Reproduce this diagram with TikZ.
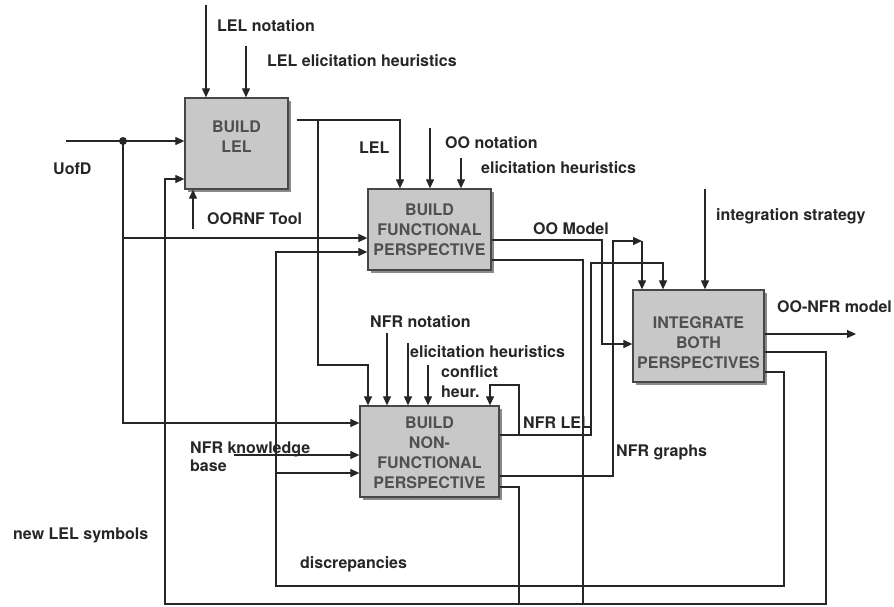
\documentclass[tikz,border=0pt]{standalone}
\usepackage{fontspec}
\setmainfont{TeX Gyre Heros}
\usetikzlibrary{arrows.meta,shadows,calc}
\definecolor{boxfill}{HTML}{C8C8C8}
\definecolor{boxline}{HTML}{474747}
\definecolor{boxtext}{HTML}{505050}
\definecolor{ink}{HTML}{262626}
\definecolor{shade}{HTML}{8A8A8A}
\begin{document}
\begin{tikzpicture}[x=1pt,y=-1pt,
  font=\fontsize{16}{20}\selectfont\bfseries,
  proc/.style={draw=boxline, line width=1.3pt, fill=boxfill, inner sep=0pt,
    drop shadow={shadow xshift=2.5pt, shadow yshift=-2.5pt, fill=shade, opacity=1}},
  proctext/.style={text=boxtext, align=center, inner sep=0pt},
  lbl/.style={text=ink, anchor=base west, inner sep=0pt},
  wire/.style={draw=ink, line width=1.2pt},
  flow/.style={wire, -{Triangle[length=9pt,width=8pt]}}]

\fill[white] (0,0) rectangle (894,606);
\useasboundingbox (0,0) rectangle (894,606);

% ---- activity boxes ----
\node[proc, minimum width=103pt, minimum height=91pt] (lel)   at (236.5,143.5) {};
\node[proc, minimum width=123pt, minimum height=81pt] (func)  at (429.5,229.5) {};
\node[proc, minimum width=131pt, minimum height=92pt] (integ) at (698.5,336) {};
\node[proc, minimum width=139pt, minimum height=91pt] (nfr)   at (429.5,451.5) {};

\node[proctext] (lelt)   at (236.5,137)   {BUILD\\LEL};
\node[proctext] (funct)  at (429.5,230)   {BUILD\\FUNCTIONAL\\PERSPECTIVE};
\node[proctext] (integt) at (698.5,342.5) {INTEGRATE\\BOTH\\PERSPECTIVES};
\node[proctext] (nfrt)   at (429.5,453)   {BUILD\\NON-\\FUNCTIONAL\\PERSPECTIVE};

% ---- free ends of inputs, controls and outputs ----
\coordinate (uofd)     at (66,141);
\coordinate (split)    at (123,141);
\coordinate (lelnot)   at (206,5);
\coordinate (lelheu)   at (246,46);
\coordinate (oornf)    at (193,229);
\coordinate (oonot)    at (430,128);
\coordinate (funcheu)  at (461,158);
\coordinate (strategy) at (705,189);
\coordinate (model)    at (856,334);
\coordinate (nfrnot)   at (387,333);
\coordinate (nfrheu)   at (408,343);
\coordinate (conflict) at (428,365);
\coordinate (kbase)    at (234,455);
\coordinate (lelout)   at ($(lel.east |- 0,120)+(8,0)$);

% ---- BUILD LEL ----
\draw[flow] (uofd) -- (lel.west |- split);
\fill[ink] (split) circle (4pt);
\draw[flow] (split) |- (nfr.west |- 0,423);
\draw[flow] (split |- 0,238) -- (func.west |- 0,238);
\draw[flow] (lelnot) -- (lelnot |- lel.north);
\draw[flow] (lelheu) -- (lelheu |- lel.north);
\draw[flow] (oornf) -- (oornf |- lel.south);
\draw[flow] (lelout) -| (400,0 |- func.north);
\draw[flow] (lelout -| 318,0) |- (368,365) -- (368,0 |- nfr.north);

% ---- BUILD FUNCTIONAL PERSPECTIVE ----
\draw[flow] (oonot) -- (oonot |- func.north);
\draw[flow] (funcheu) -- (funcheu |- func.north);
\draw[flow] (func.east |- 0,240) -| (602,344) -- (integ.west |- 0,344);
\draw[wire] (func.east |- 0,260) -| (583,604);

% ---- BUILD NON-FUNCTIONAL PERSPECTIVE ----
\draw[flow] (nfrnot) -- (nfrnot |- nfr.north);
\draw[flow] (nfrheu) -- (nfrheu |- nfr.north);
\draw[flow] (conflict) -- (conflict |- nfr.north);
\draw[flow] (kbase) -- (nfr.west |- kbase);
\draw[flow] (nfr.east |- 0,435) -| (591,263) -| (663,0 |- integ.north);
\draw[flow] (519,435) |- (490,385) -- (490,0 |- nfr.north);
\draw[flow] (nfr.east |- 0,476) -| (613,241) -- (642,241);
\draw[flow] (642,241) -- (642,0 |- integ.north);
\draw[wire] (nfr.east |- 0,487) -| (519,604);

% ---- INTEGRATE BOTH PERSPECTIVES ----
\draw[flow] (strategy) -- (strategy |- integ.north);
\draw[flow] (integ.east |- model) -- (model);
\draw[flow] (integ.east |- 0,352) -| (826,604) -| (165,179) -- (lel.west |- 0,179);
\draw[flow] (integ.east |- 0,372) -| (784,586) -| (276,252) -- (func.west |- 0,252);
\draw[flow] (276,473) -- (nfr.west |- 0,473);

% ---- labels ----
\node[lbl] (tlelnot)   at (217,31.7)  {LEL notation};
\node[lbl] (tlelheu)   at (267,66.5)  {LEL elicitation heuristics};
\node[lbl] (tuofd)     at (53,174)    {UofD};
\node[lbl] (toornf)    at (207,224)   {OORNF Tool};
\node[lbl] (tlel)      at (359,153)   {LEL};
\node[lbl] (toonot)    at (445,148)   {OO notation};
\node[lbl] (tfuncheu)  at (481,173)   {elicitation heuristics};
\node[lbl] (tstrategy) at (716,220)   {integration strategy};
\node[lbl] (toomodel)  at (533,234)   {OO Model};
\node[lbl] (tmodel)    at (777,312)   {OO-NFR model};
\node[lbl] (tnfrnot)   at (370,327)   {NFR notation};
\node[lbl] (tnfrheu)   at (410,357)   {elicitation heuristics};
\node[lbl] (tconf)     at (441,377)   {conflict};
\node[lbl] (theur)     at (441,397)   {heur.};
\node[lbl] (tnfrlel)   at (523,428)   {NFR LEL};
\node[lbl] (tgraphs)   at (616,456)   {NFR graphs};
\node[lbl] (tkb)       at (190,453)   {NFR knowledge};
\node[lbl] (tkb2)      at (190,471.7) {base};
\node[lbl] (tnewlel)   at (13,539)    {new LEL symbols};
\node[lbl] (tdisc)     at (300,568)   {discrepancies};
\end{tikzpicture}
\end{document}
